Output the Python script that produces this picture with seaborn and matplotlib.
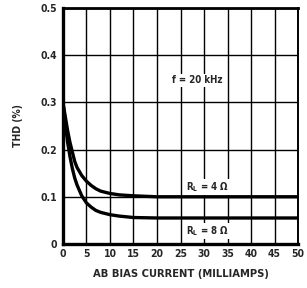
import matplotlib
matplotlib.use("Agg")
import matplotlib.pyplot as plt
import pandas as pd
import seaborn as sns

# values
bias_ma = [0, 0.5, 1, 1.5, 2, 2.5, 3, 4, 5, 6, 7, 8, 10, 12, 15, 20, 30, 40, 50]
thd_4ohm = [0.3, 0.27, 0.24, 0.215, 0.195, 0.175, 0.162, 0.145, 0.133, 0.124,
            0.117, 0.112, 0.107, 0.104, 0.102, 0.1, 0.1, 0.1, 0.1]
thd_8ohm = [0.3, 0.255, 0.215, 0.185, 0.16, 0.14, 0.125, 0.102, 0.087, 0.078,
            0.071, 0.067, 0.062, 0.059, 0.056, 0.055, 0.055, 0.055, 0.055]
x_ticks = [0, 5, 10, 15, 20, 25, 30, 35, 40, 45, 50]
y_ticks = [0, 0.1, 0.2, 0.3, 0.4, 0.5]
y_labels = ["0", "0.1", "0.2", "0.3", "0.4", "0.5"]

df = pd.DataFrame({
    "bias": bias_ma * 2,
    "thd": thd_4ohm + thd_8ohm,
    "load": ["4"] * len(bias_ma) + ["8"] * len(bias_ma),
})

sns.set_style("white")
plt.rcParams["font.family"] = ["DejaVu Sans"]
plt.rcParams["font.stretch"] = "condensed"

fig = plt.figure(figsize=(3.07, 2.88), dpi=100)
ax = fig.add_axes([0.205, 0.153, 0.766, 0.819])

sns.lineplot(data=df, x="bias", y="thd", hue="load", palette=["black", "black"],
             linewidth=2.4, legend=False, ax=ax, zorder=3)

ax.set_xlim(0, 50)
ax.set_ylim(0, 0.5)
ax.set_xticks(x_ticks)
ax.set_yticks(y_ticks)
ax.set_yticklabels(y_labels)
ax.grid(True, color="black", linewidth=1.0)
ax.tick_params(length=0, labelsize=7.5, pad=4)
for lab in ax.get_xticklabels() + ax.get_yticklabels():
    lab.set_fontweight("bold")

for side in ["left", "bottom"]:
    ax.spines[side].set_linewidth(2.4)
ax.spines["top"].set_linewidth(2.0)
ax.spines["right"].set_linewidth(1.4)
for s in ax.spines.values():
    s.set_color("black")

ax.set_xlabel("AB BIAS CURRENT (MILLIAMPS)", fontsize=8, fontweight="bold", labelpad=7)
ax.set_ylabel("THD (%)", fontsize=7.5, fontweight="bold", labelpad=13)

ax.text(28.5, 0.347, "f = 20 kHz", fontsize=7, fontweight="bold",
        ha="center", va="center",
        bbox=dict(facecolor="white", edgecolor="none", pad=1))
ax.text(30.8, 0.121, r"R$_\mathregular{L}$ = 4 Ω", fontsize=7, fontweight="bold",
        ha="center", va="center",
        bbox=dict(facecolor="white", edgecolor="none", pad=1))
ax.text(30.8, 0.027, r"R$_\mathregular{L}$ = 8 Ω", fontsize=7, fontweight="bold",
        ha="center", va="center",
        bbox=dict(facecolor="white", edgecolor="none", pad=1))

fig.savefig("out.png", dpi=100, facecolor="white")
